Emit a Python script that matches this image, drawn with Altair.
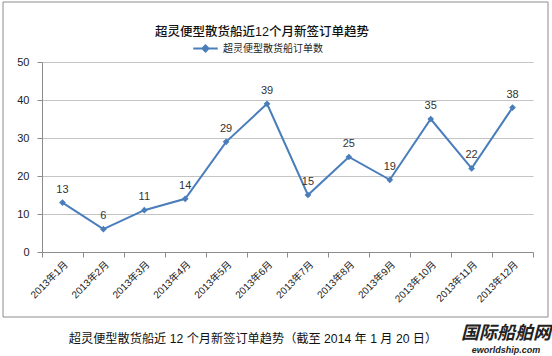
import altair as alt
import pandas as pd

months = ["2013年1月", "2013年2月", "2013年3月", "2013年4月", "2013年5月", "2013年6月",
          "2013年7月", "2013年8月", "2013年9月", "2013年10月", "2013年11月", "2013年12月"]
orders = [13, 6, 11, 14, 29, 39, 15, 25, 19, 35, 22, 38]
series_name = "超灵便型散货船订单数"
title_text = "超灵便型散货船近12个月新签订单趋势"
caption_text = "超灵便型散货船近 12 个月新签订单趋势（截至 2014 年 1 月 20 日）"
wm_cn = "国际船舶网"
wm_en = "eworldship.com"

df = pd.DataFrame({"month": months, "orders": orders, "series": [series_name] * len(months)})

FONT = "Liberation Sans, Noto Sans CJK SC"
BLUE = "#4A7EBB"

x_enc = alt.X("month:N", sort=months, title=None, bandPosition=0.5,
              scale=alt.Scale(type="band", paddingInner=0, paddingOuter=0),
              axis=alt.Axis(tickBand="extent", labelAngle=-45, labelFontSize=10,
                            labelColor="#222", labelFont=FONT, domainColor="#8c8c8c",
                            tickColor="#8c8c8c", tickSize=5, labelPadding=2))
y_enc = alt.Y("orders:Q", title=None,
              scale=alt.Scale(domain=[0, 50], nice=False),
              axis=alt.Axis(values=[0, 10, 20, 30, 40, 50], labelFontSize=11, labelColor="#222",
                            labelFont=FONT, gridColor="#c4c4c4", domainColor="#8c8c8c",
                            tickColor="#8c8c8c", tickSize=5, labelPadding=8))

color_enc = alt.Color("series:N", title=None,
                      scale=alt.Scale(range=[BLUE]),
                      legend=alt.Legend(orient="none", legendX=150, legendY=-27,
                                        symbolType="M-1,0L1,0M-0.25,0L0,-0.25L0.25,0L0,0.25Z",
                                        symbolSize=600, symbolStrokeWidth=2,
                                        symbolFillColor=BLUE, symbolStrokeColor=BLUE,
                                        labelFontSize=10, labelFont=FONT, labelColor="#222"))

base = alt.Chart(df)
line = base.mark_line(strokeWidth=2, color=BLUE).encode(x=x_enc, y=y_enc, color=color_enc)
pts = base.mark_point(shape="diamond", filled=True, size=45, opacity=1, color=BLUE).encode(
    x=x_enc, y=y_enc)
labels = base.mark_text(dy=-13, fontSize=11, font=FONT, color="#333").encode(
    x=x_enc, y=y_enc, text="orders:Q")

one = pd.DataFrame({"k": [0]})
border = alt.Chart(one).mark_rect(fill=None, stroke="#8c8c8c", strokeWidth=1).encode(
    x=alt.value(-39), x2=alt.value(506), y=alt.value(-60), y2=alt.value(255))
title = alt.Chart(pd.DataFrame({"t": [title_text]})).mark_text(
    fontSize=12.5, font=FONT, fontWeight=500, color="#111").encode(
    x=alt.value(220), y=alt.value(-30), text="t:N")
caption = alt.Chart(pd.DataFrame({"t": [caption_text]})).mark_text(
    fontSize=12.2, font=FONT, color="#111").encode(
    x=alt.value(211), y=alt.value(277), text="t:N")
wm1 = alt.Chart(pd.DataFrame({"t": [wm_cn]})).mark_text(
    fontSize=18, font="Noto Sans CJK SC", fontWeight="bold", fontStyle="italic", color="#222").encode(
    x=alt.value(464), y=alt.value(272), text="t:N")
wm2 = alt.Chart(pd.DataFrame({"t": [wm_en]})).mark_text(
    fontSize=9, font=FONT, fontWeight="bold", fontStyle="italic", color="#222").encode(
    x=alt.value(464), y=alt.value(288), text="t:N")

chart = alt.layer(border, title, line, pts, labels, caption, wm1, wm2).properties(
    width=491, height=190,
    autosize=alt.AutoSizeParams(type="none"),
    padding={"left": 42, "top": 62, "right": 19, "bottom": 104},
    background="white",
).configure_view(stroke=None)

chart.save("out.html", embed_options={"renderer": "svg", "actions": False})
